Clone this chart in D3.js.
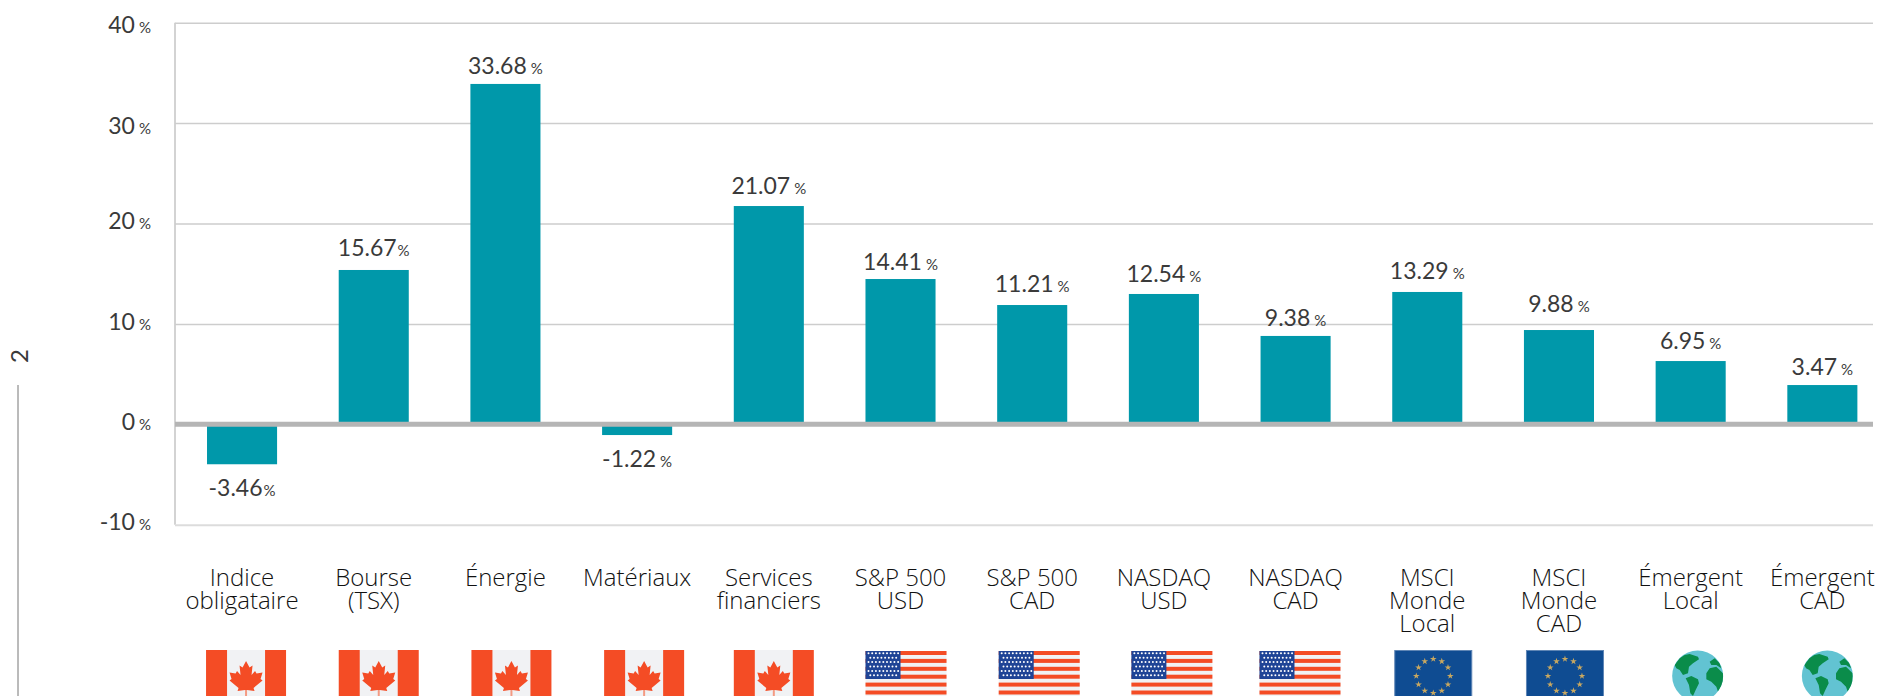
<!DOCTYPE html>
<html>
<head>
<meta charset="utf-8">
<script src="https://cdn.jsdelivr.net/npm/d3@7"></script>
<style>
  html, body { margin: 0; background: #fff; }
  svg { display: block; }
  text { font-family: Lato, sans-serif; font-weight: 400; fill: #3a3a3a; }
  .category { font-family: "Open Sans", sans-serif; font-weight: 300; fill: #111; }
</style>
</head>
<body>
<div id="chart"></div>
<script>
// Categories and values
const categories = [
  "Indice\nobligataire", "Bourse\n(TSX)", "Énergie", "Matériaux", "Services\nfinanciers",
  "S&P 500\nUSD", "S&P 500\nCAD", "NASDAQ\nUSD", "NASDAQ\nCAD",
  "MSCI\nMonde\nLocal", "MSCI\nMonde\nCAD", "Émergent\nLocal", "Émergent\nCAD"
];
// printed above each bar
const printedValues = [-3.46, 15.67, 33.68, -1.22, 21.07, 14.41, 11.21, 12.54, 9.38, 13.29, 9.88, 6.95, 3.47];
// the bars as drawn in the original do not quite agree with their labels
const barValues = [-3.98, 15.37, 33.9, -1.07, 21.74, 14.47, 11.88, 12.98, 8.8, 13.18, 9.39, 6.3, 3.91];
const flags = ["ca", "ca", "ca", "ca", "ca", "us", "us", "us", "us", "eu", "eu", "globe", "globe"];
const yTicks = [40, 30, 20, 10, 0, -10];

const width = 1899, height = 696;
const COLOR_BAR = "#0098aa";
const COLOR_RED = "#f44c25";
const COLOR_PALE = "#f1f2f4";

const svg = d3.select("#chart").append("svg")
  .attr("width", width)
  .attr("height", height);

const x = d3.scaleBand()
  .domain(categories)
  .range([176.2, 1888.2])
  .paddingInner(0.468)
  .paddingOuter(0.234);

const y = d3.scaleLinear()
  .domain([-10, 40])
  .range([524.7, 22.7]);

// Hand tuned offsets, the labels in the original sit unevenly
const tickDy = { "40": 10, "30": 10, "20": 4.5, "10": 6, "0": 5, "-10": 4.5 };
const labelGap = [32, 14, 10, 32, 11.7, 9, 12.7, 12.3, 10, 13, 18, 12, 10];
const pctGap = [1, 1, 4, 4, 4, 4, 4, 4, 4, 4, 4, 4, 4];
const flagDx = [4, 5, 6, 7, 5, 5.5, 7, 8, 4.4, 6, 6, 7, 5];

// Axis with gridlines
const axisLeftX = 175, axisRightX = 1873;
const yAxis = svg.append("g")
  .attr("transform", `translate(${axisLeftX}, 0)`)
  .call(d3.axisLeft(y)
    .tickValues(yTicks)
    .tickSize(-(axisRightX - axisLeftX))
    .tickFormat(""));

yAxis.select(".domain")
  .attr("d", `M0,${y(40)}V${y(-10)}`)
  .attr("stroke", "#c4c4c4")
  .attr("stroke-width", 1.5);

yAxis.selectAll(".tick line")
  .attr("stroke", d => d === -10 ? "#dcdcdc" : "#cdcdcd")
  .attr("stroke-width", d => d === -10 ? 2 : 1.5);

yAxis.selectAll(".tick text").remove();
yAxis.selectAll(".tick").append("text")
  .attr("x", -24)
  .attr("y", d => tickDy[d])
  .attr("text-anchor", "end")
  .call(pct, d => d, () => 4);

// number plus the small percent sign
function pct(selection, value, gap) {
  selection.append("tspan")
    .style("font-size", "23px")
    .text(value);
  selection.append("tspan")
    .attr("dx", gap)
    .style("font-size", "15px")
    .text("%");
}

// Bars
svg.selectAll(".bar")
  .data(barValues)
  .join("rect")
  .attr("class", "bar")
  .attr("x", (d, i) => x(categories[i]))
  .attr("width", x.bandwidth())
  .attr("y", d => y(Math.max(d, 0)))
  .attr("height", d => Math.abs(y(d) - y(0)))
  .attr("fill", COLOR_BAR);

// Thick zero line goes over the bars
svg.append("line")
  .attr("x1", axisLeftX).attr("x2", axisRightX)
  .attr("y1", y(0)).attr("y2", y(0))
  .attr("stroke", "#b5b5b5")
  .attr("stroke-width", 5);

// Value labels
svg.selectAll(".value")
  .data(printedValues)
  .join("text")
  .attr("class", "value")
  .attr("x", (d, i) => x(categories[i]) + x.bandwidth() / 2)
  .attr("y", (d, i) => barValues[i] < 0 ? y(barValues[i]) + labelGap[i] : y(barValues[i]) - labelGap[i])
  .attr("text-anchor", "middle")
  .call(pct, d => d.toFixed(2), (d, i) => pctGap[i]);

// Category labels
svg.selectAll(".category")
  .data(categories)
  .join("text")
  .attr("class", "category")
  .attr("x", d => x(d) + x.bandwidth() / 2)
  .attr("y", 586)
  .attr("text-anchor", "middle")
  .style("font-size", "24px")
  .selectAll("tspan")
  .data(d => d.split("\n").map(line => ({ line, cx: x(d) + x.bandwidth() / 2 })))
  .join("tspan")
  .attr("x", d => d.cx)
  .attr("dy", (d, i) => i ? 23 : 0)
  .text(d => d.line);

// Flags
const flagTop = 650;
const flagWidth = { ca: 80, us: 81, eu: 78, globe: 51 };

// right half of the maple leaf, mirrored below
const leafHalf = [[0, 0], [3.5, 6.5], [6.5, 4.5], [5.5, 14], [9, 10], [10.5, 12.5], [16.5, 11.5],
  [14.5, 18], [16.5, 19.5], [7.5, 27], [8.5, 30], [1, 29]];
const leaf = leafHalf.concat(leafHalf.slice().reverse().map(([a, b]) => [-a, b]));

function drawCanada(g) {
  g.append("rect").attr("width", 80).attr("height", 46).attr("fill", COLOR_RED);
  g.append("rect").attr("x", 21).attr("width", 38).attr("height", 46).attr("fill", COLOR_PALE);
  g.append("line")
    .attr("x1", 40).attr("x2", 40).attr("y1", 38).attr("y2", 46)
    .attr("stroke", "#f49a82").attr("stroke-width", 2);
  g.append("path")
    .attr("transform", "translate(40, 11)")
    .attr("d", d3.line()(leaf) + "Z")
    .attr("fill", COLOR_RED);
}

function drawUS(g) {
  g.append("rect").attr("y", 1).attr("width", 81).attr("height", 45).attr("fill", COLOR_PALE);
  d3.range(6).forEach(i => {
    g.append("rect")
      .attr("y", 1 + i * 7.9)
      .attr("width", 81)
      .attr("height", 4)
      .attr("fill", COLOR_RED);
  });
  g.append("rect").attr("y", 1).attr("width", 35).attr("height", 28).attr("fill", "#1f4496");
  d3.range(6).forEach(row => {
    d3.range(row % 2 ? 8 : 9).forEach(col => {
      g.append("circle")
        .attr("cx", (row % 2 ? 4.8 : 3) + col * 3.7)
        .attr("cy", 3.3 + row * 4.4)
        .attr("r", 1)
        .attr("fill", "#fff");
    });
  });
}

function drawEU(g) {
  g.append("rect")
    .attr("x", 0.5).attr("y", 0.5)
    .attr("width", 77).attr("height", 46)
    .attr("fill", "#0f4c92")
    .attr("stroke", "#5f86b5");
  const star = d3.symbol(d3.symbolStar, 14)();
  d3.range(12).forEach(i => {
    const a = i * Math.PI / 6;
    g.append("path")
      .attr("transform", `translate(${39 + 17 * Math.sin(a)}, ${26 - 17 * Math.cos(a)})`)
      .attr("d", star)
      .attr("fill", "#c9a860");
  });
}

// rough continents at 3x around the globe centre
const continents = [
  [[-69, -33], [-54, -53], [-39, -63], [-24, -66], [1, -58], [4, -50], [-14, -38], [-26, -28], [-29, -8], [-44, -3], [-54, -18], [-64, -23]],
  [[-36, 7], [-19, 0], [1, 10], [4, 22], [-6, 42], [-14, 60], [-22, 52], [-26, 27]],
  [[26, -8], [36, -23], [56, -28], [76, -8], [76, 22], [61, 47], [56, 32], [41, 17], [26, 10]],
  [[36, -43], [51, -53], [66, -38], [71, -23], [56, -33], [41, -33]]
];

function drawGlobe(g) {
  const clipId = "globe-" + g.attr("data-i");
  g.append("clipPath").attr("id", clipId)
    .append("circle").attr("cx", 25.5).attr("cy", 26).attr("r", 25.5);
  g.append("circle")
    .attr("cx", 25.5).attr("cy", 26).attr("r", 25.5)
    .attr("fill", "#62c3d2");
  g.append("g")
    .attr("clip-path", `url(#${clipId})`)
    .append("g")
    .attr("transform", "translate(25.5, 26) scale(0.3333)")
    .selectAll("path")
    .data(continents)
    .join("path")
    .attr("d", d => d3.line()(d) + "Z")
    .attr("fill", "#0a8c4a");
}

const painters = { ca: drawCanada, us: drawUS, eu: drawEU, globe: drawGlobe };

flags.forEach((kind, i) => {
  const cx = x(categories[i]) + x.bandwidth() / 2 + flagDx[i];
  const g = svg.append("g")
    .attr("data-i", i)
    .attr("transform", `translate(${cx - flagWidth[kind] / 2}, ${flagTop})`);
  painters[kind](g);
});

// Leftover page furniture at the left edge: rotated page number and rule
svg.append("text")
  .attr("transform", "translate(28, 363) rotate(-90)")
  .style("font-size", "24px")
  .text("2");

svg.append("line")
  .attr("x1", 18).attr("x2", 18)
  .attr("y1", 385).attr("y2", height)
  .attr("stroke", "#777")
  .attr("stroke-width", 1);
</script>
</body>
</html>
